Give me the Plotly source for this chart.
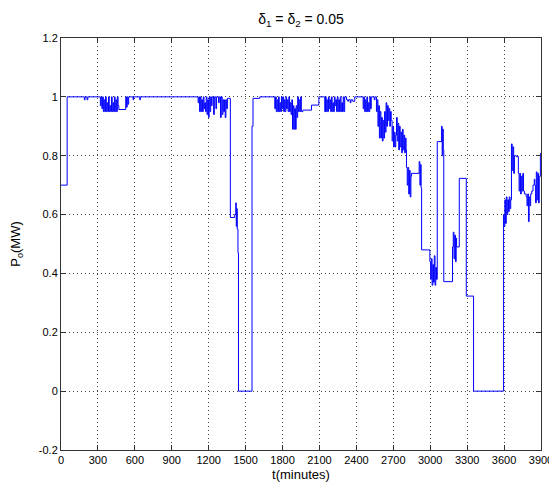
import plotly.graph_objects as go

# ---- data: output power P_o (MW) vs time t (minutes), step signal ----
t_part1 = [0, 50, 190, 196, 212, 218,
           320, 326, 332, 338, 344, 350, 356, 362, 368, 374, 380, 386, 392, 398,
           404, 410, 416, 422, 428, 434, 440, 446, 452, 458, 464, 470, 526, 532,
           538, 544, 550, 586, 590, 640, 644]
p_part1 = [0.70, 1.0, 0.99, 1.0, 0.99, 1.0,
           0.97, 1.0, 0.96, 1.0, 0.95, 0.99, 0.95, 1.0, 0.95, 0.98, 0.95, 1.0, 0.95, 0.97,
           0.95, 1.0, 0.95, 0.98, 0.95, 1.0, 0.95, 0.99, 0.95, 1.0, 0.97, 0.957, 1.0, 0.965,
           1.0, 0.975, 1.0, 0.99, 1.0, 0.99, 1.0]

t_part2 = [1114, 1120, 1126, 1132, 1138, 1144, 1150, 1156, 1162, 1168, 1174, 1180,
           1186, 1192, 1198, 1204, 1210, 1216, 1222, 1228, 1240, 1246, 1258, 1264,
           1280, 1286, 1296, 1302, 1310, 1316, 1322, 1328, 1334, 1340, 1346, 1352,
           1376, 1411, 1420, 1424, 1428, 1432, 1438, 1442, 1552, 1560, 1615]
p_part2 = [0.98, 1.0, 0.95, 1.0, 0.95, 0.99, 0.95, 1.0, 0.96, 0.98, 0.95, 1.0,
           0.94, 0.99, 0.93, 1.0, 0.95, 1.0, 0.97, 1.0, 0.94, 1.0, 0.96, 1.0,
           0.98, 1.0, 0.93, 1.0, 0.94, 0.99, 0.95, 0.99, 0.93, 0.99, 0.96, 0.995,
           0.59, 0.60, 0.64, 0.56, 0.62, 0.55, 0.47, 0.0, 0.90, 0.995, 1.0]

t_part3 = [1737, 1743, 1749, 1755, 1761, 1767, 1773, 1779, 1785, 1791, 1797, 1803,
           1809, 1815, 1821, 1827, 1833, 1839, 1845, 1851, 1857, 1863, 1869, 1875,
           1881, 1887, 1893, 1899, 1905, 1911, 1917, 1923, 1929, 1935, 1941, 1947,
           1953, 1965, 2035, 2095,
           2143, 2149, 2155, 2161, 2167, 2173, 2179, 2185, 2191, 2197, 2203, 2209,
           2215, 2221, 2227, 2233, 2239, 2245, 2251, 2257, 2263, 2269, 2275, 2281,
           2287, 2293, 2299, 2305, 2320, 2330, 2336, 2350, 2356, 2370, 2387]
p_part3 = [0.96, 1.0, 0.95, 0.99, 0.95, 1.0, 0.95, 0.98, 0.95, 1.0, 0.96, 1.0,
           0.95, 0.99, 0.95, 1.0, 0.96, 0.99, 0.95, 1.0, 0.95, 0.98, 0.94, 0.99,
           0.89, 0.97, 0.89, 0.96, 0.89, 0.97, 0.93, 1.0, 0.95, 0.99, 0.95, 1.0,
           0.95, 0.955, 0.972, 1.0,
           0.95, 1.0, 0.95, 0.99, 0.95, 1.0, 0.96, 0.99, 0.95, 1.0, 0.95, 0.98,
           0.95, 1.0, 0.97, 0.99, 0.95, 1.0, 0.95, 0.99, 0.95, 1.0, 0.95, 0.98,
           0.95, 1.0, 0.95, 1.0, 0.99, 0.985, 0.99, 0.98, 0.99, 0.985, 1.0]

t_part4 = [2455, 2461, 2467, 2473, 2479, 2485, 2491, 2497, 2503, 2509, 2515, 2521,
           2545, 2551, 2563, 2569, 2575, 2581, 2587, 2593, 2599, 2605, 2611, 2617,
           2623, 2629, 2635, 2641, 2647, 2653, 2659, 2665, 2671, 2677, 2683,
           2690, 2696, 2702, 2708, 2714, 2720, 2726, 2732, 2738, 2744, 2750, 2756,
           2762, 2768, 2774, 2780, 2786, 2792, 2798, 2804,
           2807, 2813, 2819, 2825, 2831, 2837, 2843, 2848, 2910, 2916, 2922, 2926, 2930]
p_part4 = [0.96, 1.0, 0.95, 0.99, 0.95, 1.0, 0.95, 0.98, 0.95, 1.0, 0.96, 1.0,
           0.99, 1.0, 0.95, 0.99, 0.90, 0.97, 0.86, 0.95, 0.86, 0.93, 0.85, 0.92,
           0.86, 0.95, 0.88, 0.98, 0.90, 0.97, 0.92, 0.96, 0.90, 0.95, 0.92,
           0.85, 0.90, 0.83, 0.88, 0.83, 0.87, 0.93, 0.85, 0.91, 0.82, 0.90, 0.83,
           0.88, 0.81, 0.89, 0.82, 0.87, 0.81, 0.86, 0.82,
           0.76, 0.70, 0.76, 0.67, 0.75, 0.66, 0.73, 0.74, 0.78, 0.70, 0.77, 0.69, 0.48]

t_part5 = [2997, 3003, 3009, 3015, 3021, 3027, 3033, 3039, 3045, 3051,
           3057, 3092, 3097, 3102, 3106, 3110, 3181, 3187, 3193, 3199, 3205,
           3211, 3214, 3236, 3293, 3352]
p_part5 = [0.44, 0.38, 0.45, 0.36, 0.43, 0.37, 0.46, 0.36, 0.42, 0.38,
           0.848, 0.90, 0.80, 0.89, 0.82, 0.372, 0.49, 0.54, 0.45, 0.53, 0.44,
           0.52, 0.49, 0.723, 0.323, 0.0]

t_part6 = [3596, 3600, 3606, 3612, 3618, 3624, 3630, 3636, 3642, 3648, 3654,
           3660, 3666, 3672, 3678, 3684, 3700, 3716, 3722, 3728, 3734, 3740,
           3746, 3752, 3758, 3765, 3780, 3786, 3792, 3798, 3804, 3810, 3816,
           3825, 3835, 3845, 3850, 3856, 3862, 3868, 3874, 3880, 3886, 3895, 3900]
p_part6 = [0.60, 0.56, 0.65, 0.57, 0.66, 0.60, 0.65, 0.61, 0.66, 0.62, 0.65,
           0.84, 0.75, 0.83, 0.74, 0.80, 0.797, 0.74, 0.68, 0.74, 0.67, 0.73,
           0.68, 0.74, 0.68, 0.67, 0.66, 0.63, 0.67, 0.576, 0.66, 0.63, 0.67,
           0.68, 0.70, 0.72, 0.70, 0.64, 0.745, 0.65, 0.74, 0.64, 0.73, 0.808, 0.808]

x_ticks = [0, 300, 600, 900, 1200, 1500, 1800, 2100, 2400, 2700, 3000, 3300, 3600, 3900]
y_ticks = [-0.2, 0, 0.2, 0.4, 0.6, 0.8, 1.0, 1.2]
y_tick_labels = ["-0.2", "0", "0.2", "0.4", "0.6", "0.8", "1", "1.2"]

t_all = t_part1 + t_part2 + t_part3 + t_part4 + t_part5 + t_part6
p_all = p_part1 + p_part2 + p_part3 + p_part4 + p_part5 + p_part6

fig = go.Figure()
fig.add_trace(go.Scatter(x=t_all, y=p_all, mode="lines",
                         line=dict(color="#0000ff", width=1, shape="hv"),
                         showlegend=False, hoverinfo="skip"))

FAM = "Liberation Sans, Arial, sans-serif"
font = dict(family=FAM, size=11, color="#000")
label_font = dict(family=FAM, size=13, color="#000")
title_font = dict(family=FAM, size=14, color="#000")
axis_common = dict(showline=True, linecolor="#333", linewidth=1, mirror="ticks",
                   ticks="inside", ticklen=5, tickcolor="#333",
                   showgrid=True, gridcolor="#444", gridwidth=1, griddash="1px,3px",
                   zeroline=False, tickfont=font, automargin=False)

# the page body adds an 8px offset, so the figure is 8px smaller than the window
W, H = 549, 474
L, R, T, B = 53, 16, 30, 32
fig.update_layout(
    template="none",
    width=W, height=H,
    margin=dict(l=L, r=R, t=T, b=B, pad=0),
    paper_bgcolor="white", plot_bgcolor="white",
    font=font,
    title=dict(text="δ<sub>1</sub> = δ<sub>2</sub> = 0.05", x=0.5,
               xanchor="center", xref="paper", y=1 - 11 / H, yanchor="middle",
               font=title_font),
)
fig.update_xaxes(range=[0, 3900], tickvals=x_ticks, ticktext=[str(v) for v in x_ticks],
                 title=dict(text="t(minutes)", standoff=4, font=label_font), **axis_common)
fig.update_yaxes(range=[-0.2, 1.2], tickvals=y_ticks, ticktext=y_tick_labels,
                 title=dict(text="P<sub>o</sub>(MW)", standoff=21, font=label_font), **axis_common)

fig.write_html("out.html")
